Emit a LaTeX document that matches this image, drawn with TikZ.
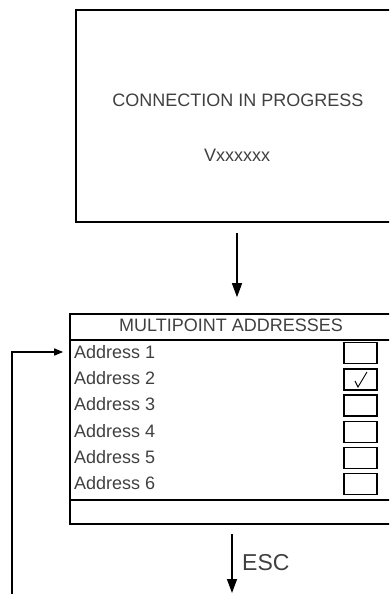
\documentclass[tikz,border=0pt]{standalone}
\usepackage{fontspec}
\setmainfont{Liberation Sans}
\usetikzlibrary{arrows.meta}
\begin{document}
\begin{tikzpicture}[x=1pt,y=-1pt,
  frame/.style={draw, line width=1.6pt, inner sep=0pt},
  txt/.style={text=black!75, font=\fontsize{18}{21}\selectfont, inner sep=0pt},
  cbox/.style={draw, line width=1.4pt, minimum width=33pt, minimum height=21pt, inner sep=0pt},
  arr/.style={line width=1.4pt, -{Triangle[length=14pt,width=10pt]}},
  arrs/.style={line width=1.4pt, -{Triangle[length=9pt,width=7pt]}}]
\useasboundingbox (0,0) rectangle (389,594);
\begin{scope}
\clip (0,0) rectangle (389,594);
% top screen
\node[frame, minimum width=318pt, minimum height=212pt] (conn) at (235,116) {};
\node[txt] (t1) at (238,100) {CONNECTION IN PROGRESS};
\node[txt] (t2) at (237,155) {Vxxxxxx};
% address screen
\node[frame, minimum width=324pt, minimum height=210pt] (addr) at (232,419) {};
\node[txt] (title) at (231,325) {MULTIPOINT ADDRESSES};
\coordinate (s1) at (70,340);
\coordinate (s2) at (70,500);
\draw[line width=1.6pt] (s1) -- (s1 -| addr.east);
\draw[line width=1.6pt] (s2) -- (s2 -| addr.east);
\foreach \i/\y in {1/352,2/378.5,3/404.5,4/431,5/457,6/483}{
  \node[txt, anchor=west] (a\i) at (74,\y) {Address \i};
  \node[cbox] (c\i) at (360.5,\y+1) {};
}
\draw[line width=0.9pt] (355,381) -- (358,387) -- (367,372);
% connectors
\coordinate (x1) at (237,0);
\draw[arr, shorten <=10pt, shorten >=16pt] (conn.south -| x1) -- (addr.north -| x1);
\coordinate (x2) at (232,593);
\draw[arr, shorten <=9pt] (addr.south -| x2) -- (x2);
\node[anchor=west, text=black!75, font=\fontsize{23}{26}\selectfont, inner sep=0pt] (esc) at (242,563) {ESC};
\coordinate (fb) at (12,594);
\draw[arrs, shorten >=6pt] (fb) |- (addr.west |- a1);
\end{scope}
\end{tikzpicture}
\end{document}
